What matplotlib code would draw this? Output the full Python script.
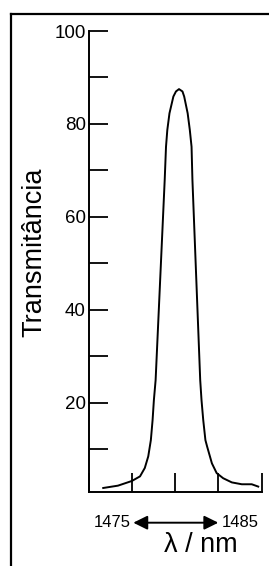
import matplotlib
matplotlib.use("Agg")
import matplotlib.pyplot as plt
from matplotlib.lines import Line2D
import matplotlib.transforms as mtransforms

plt.rcParams['font.family'] = ['Liberation Sans', 'DejaVu Sans']

# Data
wavelength = [1471.7, 1473.4, 1475.0, 1475.95, 1476.5, 1476.9, 1477.2, 1477.4, 1477.55,
              1477.75, 1478.8, 1478.95, 1479.1, 1479.35, 1479.8, 1480.1, 1480.45,
              1480.85, 1481.05, 1481.45, 1481.7, 1481.9, 1482.0, 1482.9, 1483.05,
              1483.25, 1483.5, 1483.7, 1484.25, 1484.8, 1485.55, 1486.55, 1487.7,
              1488.85, 1489.6]
transmittance = [1.7, 2.2, 3.2, 4.2, 6.0, 8.5, 12.0, 16.3, 20.6,
                 24.9, 68.0, 75.1, 78.7, 82.3, 85.9, 87.0, 87.5,
                 87.0, 85.9, 82.3, 78.7, 75.1, 68.0, 24.9, 20.6,
                 16.3, 12.0, 10.6, 7.0, 4.9, 3.8, 2.9, 2.5,
                 2.5, 2.0]
y_major = [20, 40, 60, 80, 100]
y_minor = [10, 30, 50, 70, 90]
x_ticks = [1470, 1475, 1480, 1485, 1490]
range_labels = ["1475", "1485"]

W, H = 269, 566
fig = plt.figure(figsize=(W / 100, H / 100), dpi=100)
ax = fig.add_axes([88.5 / W, 1 - 491.7 / H, (261.7 - 88.5) / W, (491.7 - 31) / H])

ax.plot(wavelength, transmittance, color='black', lw=1.4, solid_joinstyle='round')

ax.set_xlim(1470, 1490)
ax.set_ylim(0.9, 100)
ax.set_yticks(y_major)
ax.set_yticks(y_minor, minor=True)
ax.set_yticklabels([str(v) for v in y_major], fontsize=13.5)
ax.set_xticks(x_ticks)
ax.set_xticklabels([])

for s in ['top', 'right']:
    ax.spines[s].set_visible(False)
for s in ['left', 'bottom']:
    ax.spines[s].set_linewidth(1.4)

ax.tick_params(axis='y', which='both', direction='in', length=13.5, width=1.3, pad=2)
ax.tick_params(axis='x', which='both', direction='in', length=14, width=1.3)

ax.set_ylabel("Transmitância", fontsize=19.5)
ax.yaxis.set_label_coords(-(88.5 - 47) / (261.7 - 88.5), (491.7 - 252) / (491.7 - 31))

trans = mtransforms.blended_transform_factory(ax.transData, ax.transAxes)
y_arrow = -(522.7 - 491.7) / (491.7 - 31)
ax.annotate("", xy=(1484.99, y_arrow), xytext=(1475.17, y_arrow),
            xycoords=trans, textcoords=trans,
            arrowprops=dict(arrowstyle='<|-|>,head_length=0.85,head_width=0.42',
                            color='black', lw=1.4, shrinkA=0, shrinkB=0),
            annotation_clip=False)
ax.text(1474.87, y_arrow, range_labels[0], transform=trans, ha='right', va='center',
        fontsize=12, clip_on=False)
ax.text(1485.38, y_arrow, range_labels[1], transform=trans, ha='left', va='center',
        fontsize=12, clip_on=False)
y_lab = -(545.5 - 491.7) / (491.7 - 31)
ax.text(1482.99, y_lab, "λ / nm", transform=trans, ha='center', va='center',
        fontsize=19.5, clip_on=False)

# Outer frame (left and top edges visible)
fig.add_artist(Line2D([10.5 / W, 10.5 / W], [0, 1 - 14 / H], color='black', lw=1.6,
                      transform=fig.transFigure))
fig.add_artist(Line2D([10.5 / W, 1], [1 - 14 / H, 1 - 14 / H], color='black', lw=1.6,
                      transform=fig.transFigure))

fig.savefig("out.png", dpi=100)
